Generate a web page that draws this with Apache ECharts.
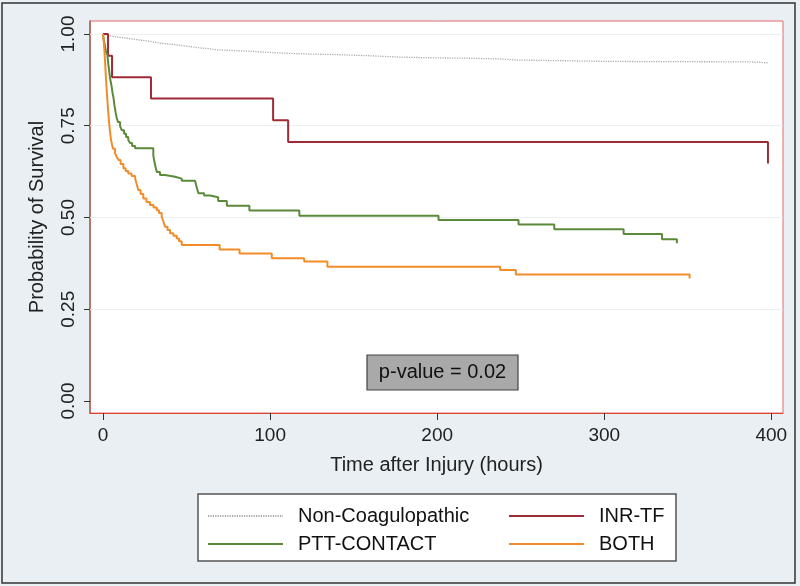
<!DOCTYPE html>
<html><head><meta charset="utf-8">
<script src="https://cdn.jsdelivr.net/npm/echarts@6/dist/echarts.min.js"></script>
<style>html,body{margin:0;padding:0;background:#fff}#c{width:800px;height:586px}</style>
</head><body><div id="c"></div>
<script>
// ---- data ----
const seriesNames = ['Non-Coagulopathic', 'INR-TF', 'PTT-CONTACT', 'BOTH'];
const nonCoag = [[0,1],[1,0.997],[2.2,0.994],[5,0.991],[10,0.989],[14,0.986],[18,0.983],[23,0.980],[28,0.976],[33,0.973],[38,0.971],[43,0.968],[48,0.965],[53,0.962],[58,0.960],[63,0.957],[68,0.955],[78,0.953],[88,0.950],[98,0.948],[108,0.946],[118,0.944],[138,0.941],[158,0.937],[178,0.935],[198,0.934],[218,0.932],[238,0.929],[248,0.927],[278,0.926],[288,0.925],[317,0.924],[387,0.923],[393,0.921],[398,0.920]];
const inrTf = [[0,1],[3,0.941],[5.4,0.882],[28.7,0.824],[101.8,0.765],[110.8,0.706],[398,0.647]];
const pttContact = [[0,1],[0.4,0.984],[1.2,0.967],[1.8,0.951],[2.6,0.943],[3.0,0.924],[3.6,0.902],[4.2,0.880],[5.1,0.858],[5.7,0.839],[6.2,0.828],[6.9,0.804],[7.5,0.787],[8.2,0.771],[9.0,0.760],[10.2,0.749],[11.2,0.738],[12.6,0.728],[13.8,0.719],[15.1,0.711],[16.2,0.703],[17.4,0.695],[19.2,0.689],[30.1,0.668],[30.8,0.651],[31.4,0.638],[32.2,0.624],[34.1,0.616],[37.1,0.611],[43.1,0.606],[47.1,0.600],[55.1,0.595],[56.0,0.583],[57.1,0.566],[60.5,0.560],[64.1,0.555],[68.9,0.545],[74.1,0.532],[87.6,0.519],[117.5,0.505],[200.8,0.493],[248.7,0.481],[270.1,0.468],[311.6,0.455],[334.6,0.441],[343.5,0.430]];
const both = [[0,1],[0.6,0.970],[1.2,0.926],[1.8,0.875],[2.4,0.834],[3.0,0.793],[3.6,0.760],[4.2,0.733],[4.8,0.711],[5.4,0.698],[6.0,0.687],[7.2,0.675],[8.2,0.665],[9.2,0.657],[10.5,0.646],[12.2,0.634],[13.5,0.627],[15.1,0.620],[17.1,0.613],[19.2,0.607],[20.1,0.591],[21.1,0.575],[22.5,0.564],[24.1,0.552],[26.0,0.542],[28.1,0.534],[30.2,0.527],[32.2,0.520],[33.5,0.512],[35.1,0.502],[36.1,0.489],[37.1,0.475],[38.6,0.466],[40.1,0.457],[42.1,0.450],[44.1,0.443],[45.5,0.435],[47.1,0.425],[69.8,0.413],[81.7,0.402],[101.0,0.389],[120.4,0.380],[134.3,0.366],[237.7,0.357],[247.1,0.345],[351.1,0.334]];
const xTicks = [0, 100, 200, 300, 400];
const yTicks = [0, 0.25, 0.5, 0.75, 1];
const gridValues = [0.25, 0.5, 0.75, 1];
const xTitle = 'Time after Injury (hours)';
const yTitle = 'Probability of Survival';
const pValueText = 'p-value = 0.02';

// ---- styling ----
const FONT = "'Liberation Sans', Arial, Helvetica, sans-serif";
const colors = ['#a9a9a9', '#9e2b37', '#5b8a3b', '#f28c28'];
const datasets = [nonCoag, inrTf, pttContact, both];
const legendPos = [[207, 506], [508, 506], [207, 534], [508, 534]];

const chart = echarts.init(document.getElementById('c'), null, {renderer: 'canvas'});

const series = datasets.map((d, i) => ({
  name: seriesNames[i],
  type: 'line',
  step: 'end',
  data: d,
  symbol: 'none',
  showSymbol: false,
  animation: false,
  z: 3 + i,
  lineStyle: {
    color: colors[i],
    width: i === 0 ? 1.3 : 2,
    type: i === 0 ? [1.2, 1.2] : 'solid'
  },
  itemStyle: {color: colors[i]}
}));
series[0].markLine = {
  silent: true,
  symbol: 'none',
  label: {show: false},
  animation: false,
  z: 1,
  lineStyle: {color: '#e9eff2', width: 1, type: 'solid'},
  data: gridValues.map(v => ({yAxis: v}))
};

const legends = seriesNames.map((n, i) => ({
  data: [n],
  left: legendPos[i][0],
  top: legendPos[i][1],
  padding: 0,
  itemWidth: 75,
  itemHeight: 14,
  selectedMode: false,
  itemStyle: {opacity: 0},
  textStyle: {fontFamily: FONT, fontSize: 20, color: '#111', padding: [0, 0, 0, 10]}
}));

chart.setOption({
  backgroundColor: '#e9eff2',
  animation: false,
  textStyle: {fontFamily: FONT},
  grid: {left: 90, top: 21, width: 693, height: 392, show: true, backgroundColor: '#ffffff', borderColor: '#e46a6a', borderWidth: 1},
  xAxis: {
    type: 'value', min: -7.8, max: 407,
    name: xTitle, nameLocation: 'middle', nameGap: 42,
    nameTextStyle: {fontFamily: FONT, fontSize: 20, color: '#222'},
    axisLine: {show: true, onZero: false, lineStyle: {color: '#d9482f', width: 1}},
    axisTick: {show: true, length: 7, customValues: xTicks, lineStyle: {color: '#333', width: 1}},
    axisLabel: {customValues: xTicks, margin: 13, fontFamily: FONT, fontSize: 19, color: '#222'},
    splitLine: {show: false}
  },
  yAxis: {
    type: 'value', min: -0.0327, max: 1.0354,
    name: yTitle, nameLocation: 'middle', nameGap: 43, nameRotate: 90,
    nameTextStyle: {fontFamily: FONT, fontSize: 20, color: '#222'},
    axisLine: {show: true, onZero: false, lineStyle: {color: '#a3604f', width: 1.5}},
    axisTick: {show: true, length: 6, customValues: yTicks, lineStyle: {color: '#333', width: 1}},
    axisLabel: {customValues: yTicks, rotate: 90, margin: 12, fontFamily: FONT, fontSize: 19, color: '#222',
      formatter: v => v.toFixed(2)},
    splitLine: {show: false}
  },
  legend: legends,
  graphic: [
    {type: 'rect', z: -10, silent: true, shape: {x: 2, y: 3, width: 793, height: 580}, style: {fill: 'none', stroke: '#333', lineWidth: 1.5}},
    {type: 'rect', z: 0, silent: true, shape: {x: 198, y: 494, width: 478, height: 67}, style: {fill: '#ffffff', stroke: '#555', lineWidth: 1.5}},
    {type: 'rect', z: 100, silent: true, shape: {x: 367, y: 355, width: 151, height: 35}, style: {fill: '#a9a9a9', stroke: '#444', lineWidth: 1.2}},
    {type: 'text', z: 101, silent: true, x: 442.5, y: 372.5, style: {text: pValueText, fill: '#111', font: "20px 'Liberation Sans', Arial, sans-serif", align: 'center', verticalAlign: 'middle'}}
  ],
  series: series
});
</script></body></html>
